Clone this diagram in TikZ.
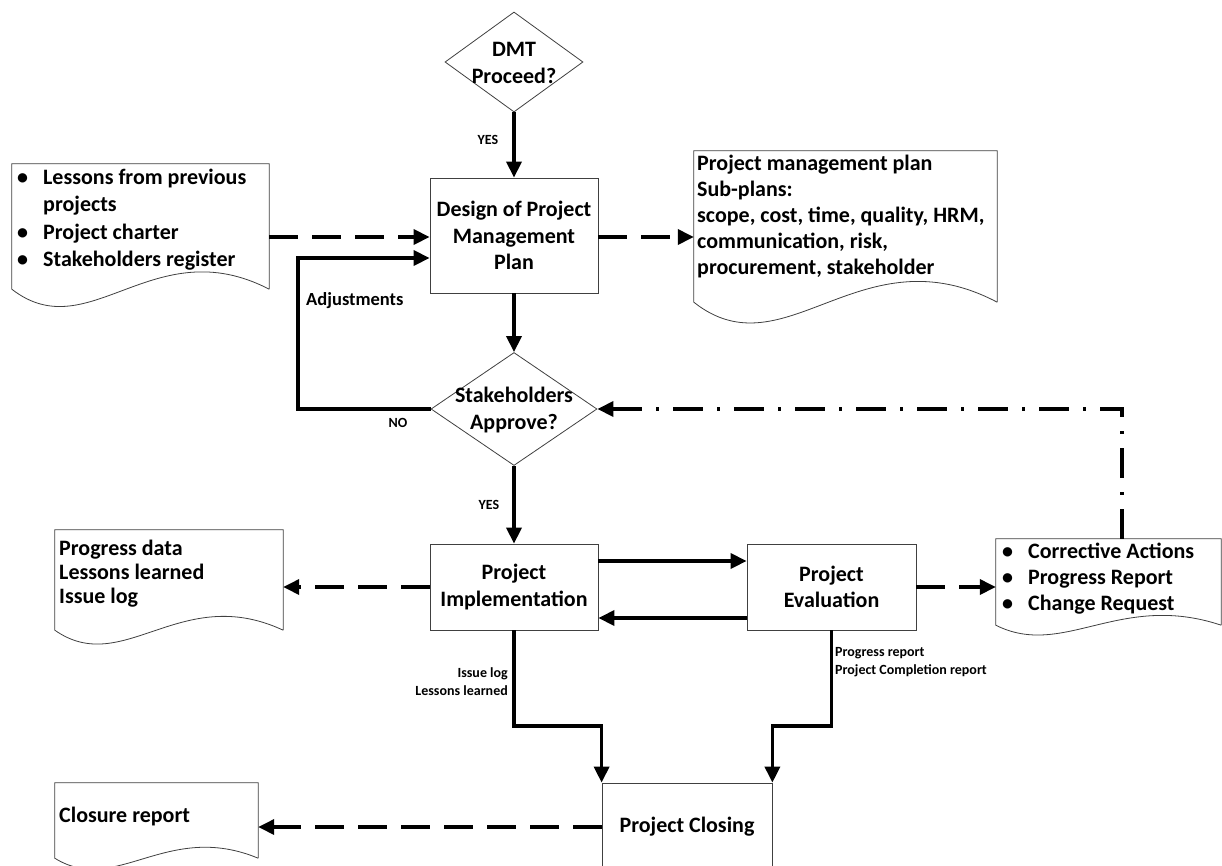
\documentclass[tikz,border=0pt]{standalone}
\usepackage{fontspec}
\setmainfont{Carlito}
\usetikzlibrary{arrows.meta,shapes.geometric,calc}
\tikzset{
 fnt/.style={font=\bfseries\fontsize{22}{26.5}\selectfont},
 procbox/.style={draw=black!75, line width=0.8pt, rectangle, inner sep=0pt, align=center, fnt},
 decision/.style={draw=black!75, line width=0.8pt, diamond, inner sep=0pt},
 dectext/.style={align=center, fnt, inner sep=0pt},
 docarea/.style={rectangle, inner sep=0pt},
 docline/.style={draw=black!75, line width=0.8pt},
 doctext/.style={anchor=north west, align=left, inner sep=0pt},
 conn/.style={line width=3.5pt, -{Triangle[length=16pt,width=15pt]}},
 dashconn/.style={conn, dash pattern=on 29pt off 14pt},
 dotconn/.style={conn, dash pattern=on 30pt off 14pt on 3pt off 14pt},
 small/.style={font=\bfseries\fontsize{14}{18}\selectfont, inner sep=0pt},
 lbl/.style={font=\bfseries\fontsize{18.5}{22}\selectfont, inner sep=0pt},
}
\newcommand{\docwave}[2]{\draw[docline] (#1.south east) -- (#1.north east) -- (#1.north west) -- (#1.south west) .. controls ($(#1.south west)!0.3!(#1.south east)+(0,#2)$) and ($(#1.south west)!0.55!(#1.south east)+(0,-#2)$) .. (#1.south east);}
\newcommand{\bul}{\makebox[29pt][l]{\hspace{3pt}•}}
\begin{document}
\begin{tikzpicture}[x=1pt,y=-1pt]
\clip (0,0) rectangle (1222,865);
\fill[white] (0,0) rectangle (1222,865);

% helper coordinates
\coordinate (ya) at (0,237);
\coordinate (yb) at (0,258);
\coordinate (loopc) at (298,0);
\coordinate (y1) at (0,561);
\coordinate (y2) at (0,618);
\coordinate (mid) at (0,726);
\coordinate (xc) at (1122,0);

% decisions
\node[decision, minimum width=138pt, minimum height=100pt] (dmt) at (514,62) {};
\node[dectext] (dmtt) at (514,63) {DMT\\Proceed?};
\node[decision, minimum width=166pt, minimum height=113pt] (sa) at (514,409) {};
\node[dectext] (sat) at (514,410) {Stakeholders\\Approve?};

% process boxes
\node[procbox, minimum width=168pt, minimum height=115pt] (design) at (514,235.5) {Design of Project\\Management\\Plan};
\node[procbox, minimum width=168pt, minimum height=86pt] (impl) at (514,587) {Project\\Implementation};
\node[procbox, minimum width=169pt, minimum height=86pt] (eval) at (831.5,587) {Project\\Evaluation};
\node[procbox, minimum width=170pt, minimum height=88pt] (closing) at (687,827) {Project Closing};

% documents
\node[docarea, minimum width=257pt, minimum height=125pt] (ldoc) at (140.5,226.5) {};
\docwave{ldoc}{60}
\node[doctext, font=\bfseries\fontsize{22}{27.3}\selectfont] (ldoct) at (14,169) {\bul Lessons from previous\\\hspace*{29pt}projects\\\bul Project charter\\\bul Stakeholders register};

\node[docarea, minimum width=303pt, minimum height=151pt] (rdoc) at (845.5,226.5) {};
\docwave{rdoc}{72}
\node[doctext, font=\bfseries\fontsize{22}{26}\selectfont] (rdoct) at (697,155) {Project management plan\\Sub-plans:\\scope, cost, time, quality, HRM,\\communication, risk,\\procurement, stakeholder};

\node[docarea, minimum width=228pt, minimum height=100pt] (pdoc) at (169,580) {};
\docwave{pdoc}{48}
\node[doctext, font=\bfseries\fontsize{22}{24}\selectfont] (pdoct) at (59,540) {Progress data\\Lessons learned\\Issue log};

\node[docarea, minimum width=225pt, minimum height=86pt] (cdoc) at (1108.5,582) {};
\docwave{cdoc}{34}
\node[doctext, font=\bfseries\fontsize{22}{26}\selectfont] (cdoct) at (999,543) {\bul Corrective Actions\\\bul Progress Report\\\bul Change Request};

\node[docarea, minimum width=203pt, minimum height=75pt] (clodoc) at (156.5,820.5) {};
\docwave{clodoc}{38}
\node[doctext, font=\bfseries\fontsize{22}{26}\selectfont] (clodoct) at (59,807) {Closure report};

% connectors
\draw[conn] (dmt.south) -- (design.north);
\node[small] (yes1) at (488,140) {YES};
\draw[dashconn] (ldoc.east |- ya) -- (design.west |- ya);
\draw[dashconn] (design.east |- ya) -- (rdoc.west |- ya);
\draw[conn] (design.south) -- (sa.north);
\draw[conn] (sa.west) -- (loopc |- sa.west) -- (loopc |- yb) -- (design.west |- yb);
\node[lbl, anchor=west] (adj) at (306,301) {Adjustments};
\node[small] (no) at (398,423) {NO};
\draw[conn] (sa.south) -- (impl.north);
\node[small] (yes2) at (489,505) {YES};
\draw[conn] (impl.east |- y1) -- (eval.west |- y1);
\draw[conn] (eval.west |- y2) -- (impl.east |- y2);
\draw[dashconn] (impl.west) -- (pdoc.east |- impl.west);
\draw[dashconn] (eval.east) -- (cdoc.west |- eval.east);
\draw[dotconn] (cdoc.north -| xc) -- (xc |- sa.east) -- (sa.east);
\draw[conn] (impl.south) -- (impl.south |- mid) -| (closing.north west);
\draw[conn] (eval.south) -- (eval.south |- mid) -| (closing.north east);
\node[small, anchor=east, align=right] (impllbl) at (508,682) {Issue log\\Lessons learned};
\node[small, anchor=west, align=left] (evallbl) at (835,662) {Progress report\\Project Completion report};
\draw[dashconn] (closing.west) -- (clodoc.east |- closing.west);
\end{tikzpicture}
\end{document}
